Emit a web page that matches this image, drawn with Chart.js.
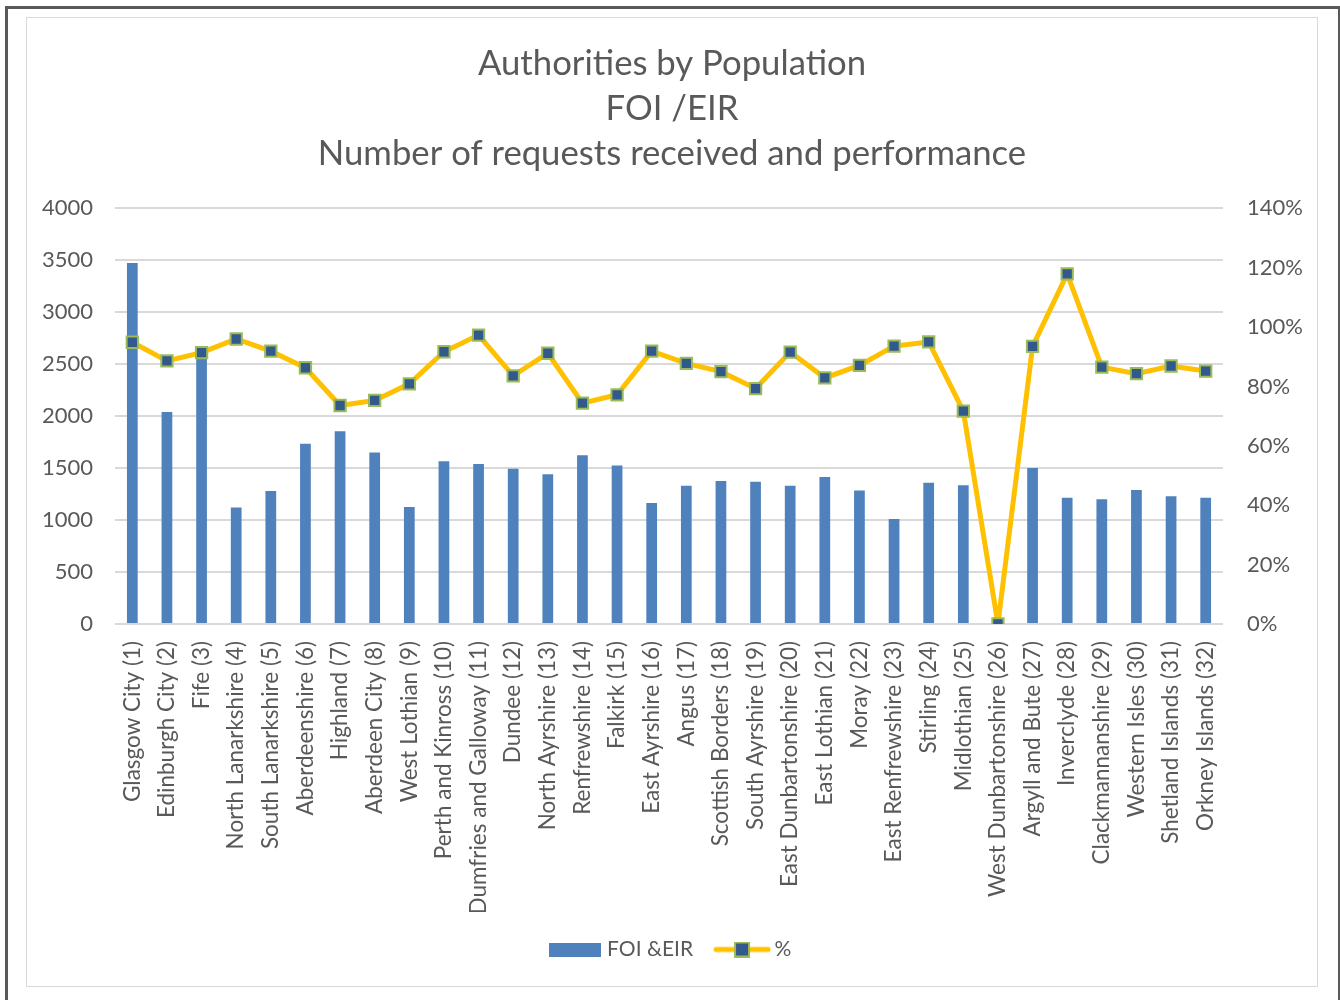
<!DOCTYPE html>
<html>
<head>
<meta charset="utf-8">
<script src="https://cdn.jsdelivr.net/npm/chart.js@4.4.1/dist/chart.umd.min.js"></script>
<style>
  html, body { margin: 0; padding: 0; background: #fff; }
  #frame {
    position: absolute; left: 5px; top: 6px; width: 1330px; height: 1000px;
    border-left: 3px solid #595959; border-top: 3px solid #595959; border-right: 3px solid #595959;
  }
  #box {
    position: absolute; left: 26px; top: 17px; width: 1290px; height: 968px;
    border: 1px solid #d9d9d9; background: #fff;
  }
  #chart { display: block; }
</style>
</head>
<body>
<div id="frame"></div>
<div id="box"><canvas id="chart" width="1290" height="968"></canvas></div>
<script>
// authorities, ordered by population rank
const authorities = [
  "Glasgow City (1)", "Edinburgh City (2)", "Fife (3)", "North Lanarkshire (4)",
  "South Lanarkshire (5)", "Aberdeenshire (6)", "Highland (7)", "Aberdeen City (8)",
  "West Lothian (9)", "Perth and Kinross (10)", "Dumfries and Galloway (11)", "Dundee (12)",
  "North Ayrshire (13)", "Renfrewshire (14)", "Falkirk (15)", "East Ayrshire (16)",
  "Angus (17)", "Scottish Borders (18)", "South Ayrshire (19)", "East Dunbartonshire (20)",
  "East Lothian (21)", "Moray (22)", "East Renfrewshire (23)", "Stirling (24)",
  "Midlothian (25)", "West Dunbartonshire (26)", "Argyll and Bute (27)", "Inverclyde (28)",
  "Clackmannanshire (29)", "Western Isles (30)", "Shetland Islands (31)", "Orkney Islands (32)"
];

// number of FOI & EIR requests received
const requests = [
  3475, 2040, 2640, 1120, 1280, 1735, 1855, 1650,
  1125, 1565, 1540, 1495, 1440, 1625, 1525, 1165,
  1330, 1375, 1370, 1330, 1415, 1285, 1010, 1360,
  1335, 0, 1500, 1215, 1200, 1290, 1230, 1215
];

// performance, % answered on time
const performance = [
  94.9, 88.6, 91.4, 96.0, 91.9, 86.3, 73.6, 75.3,
  80.9, 91.7, 97.3, 83.6, 91.2, 74.4, 77.2, 91.9,
  87.8, 85.0, 79.3, 91.6, 82.9, 87.1, 93.6, 95.0,
  71.7, 0, 93.5, 117.9, 86.5, 84.3, 86.9, 85.2
];

const countTicks = [0, 500, 1000, 1500, 2000, 2500, 3000, 3500, 4000];
const pctTicks = [0, 20, 40, 60, 80, 100, 120, 140];

const barColor = '#4f81bd';
const lineColor = '#ffc000';
const markerFill = '#33598c';
const markerEdge = '#9bbb59';
const textColor = '#595959';
const gridColor = '#d9d9d9';
const fontFamily = 'Lato, "Open Sans", sans-serif';

// legend swatches
function barSwatch() {
  const c = document.createElement('canvas');
  c.width = 52; c.height = 14;
  const g = c.getContext('2d');
  g.fillStyle = barColor;
  g.fillRect(0, 0, 52, 14);
  return c;
}
function lineSwatch() {
  const c = document.createElement('canvas');
  c.width = 58; c.height = 16;
  const g = c.getContext('2d');
  g.strokeStyle = lineColor;
  g.lineWidth = 5;
  g.lineCap = 'round';
  g.beginPath(); g.moveTo(3, 8); g.lineTo(55, 8); g.stroke();
  g.fillStyle = markerFill;
  g.strokeStyle = markerEdge;
  g.lineWidth = 2;
  g.fillRect(22, 1, 14, 14);
  g.strokeRect(22, 1, 14, 14);
  return c;
}
const swatches = [barSwatch(), lineSwatch()];

Chart.defaults.font.family = fontFamily;
Chart.defaults.color = textColor;

new Chart(document.getElementById('chart'), {
  data: {
    labels: authorities,
    datasets: [
      {
        type: 'bar',
        label: 'FOI &EIR',
        data: requests,
        backgroundColor: barColor,
        yAxisID: 'y',
        order: 1,
        barPercentage: 0.31,
        categoryPercentage: 1.0
      },
      {
        type: 'line',
        label: '%',
        data: performance,
        borderColor: lineColor,
        borderWidth: 5,
        pointStyle: 'rect',
        pointRadius: 8,
        pointBorderWidth: 2,
        pointBackgroundColor: markerFill,
        pointBorderColor: markerEdge,
        tension: 0,
        yAxisID: 'y1',
        order: 0
      }
    ]
  },
  options: {
    responsive: false,
    animation: false,
    layout: { padding: { left: 0, right: 0, top: 0, bottom: 16 } },
    plugins: {
      title: {
        display: true,
        text: ['Authorities by Population', 'FOI /EIR', 'Number of requests received and performance'],
        color: textColor,
        font: { size: 34.7, weight: 'normal', lineHeight: 1.3 },
        padding: { top: 23, bottom: 32 }
      },
      legend: {
        position: 'bottom',
        labels: {
          usePointStyle: true,
          pointStyleWidth: 44,
          color: textColor,
          font: { size: 21 },
          padding: 27,
          sort: (a, b) => a.datasetIndex - b.datasetIndex,
          generateLabels(chart) {
            const items = Chart.defaults.plugins.legend.labels.generateLabels(chart);
            items.forEach(it => { it.pointStyle = swatches[it.datasetIndex]; });
            return items;
          }
        }
      },
      tooltip: { enabled: false }
    },
    scales: {
      x: {
        grid: { display: false },
        border: { display: false },
        ticks: {
          autoSkip: false,
          maxRotation: 90,
          minRotation: 90,
          padding: 9,
          color: textColor,
          font: { size: 22.5 }
        },
        afterFit(scale) { scale.height = 288; }
      },
      y: {
        position: 'left',
        min: 0,
        max: 4000,
        afterBuildTicks(scale) { scale.ticks = countTicks.map(v => ({ value: v })); },
        grid: { color: gridColor, lineWidth: 2, drawTicks: false },
        border: { display: false },
        ticks: { padding: 22, color: textColor, font: { size: 22 }, callback: v => String(v) },
        afterFit(scale) { scale.width = 88; }
      },
      y1: {
        position: 'right',
        min: 0,
        max: 140,
        afterBuildTicks(scale) { scale.ticks = pctTicks.map(v => ({ value: v })); },
        grid: { display: false, drawTicks: false },
        border: { display: false },
        ticks: {
          padding: 24,
          color: textColor,
          font: { size: 22 },
          callback: v => v + '%'
        },
        afterFit(scale) { scale.width = 94; }
      }
    }
  }
});
</script>
</body>
</html>
